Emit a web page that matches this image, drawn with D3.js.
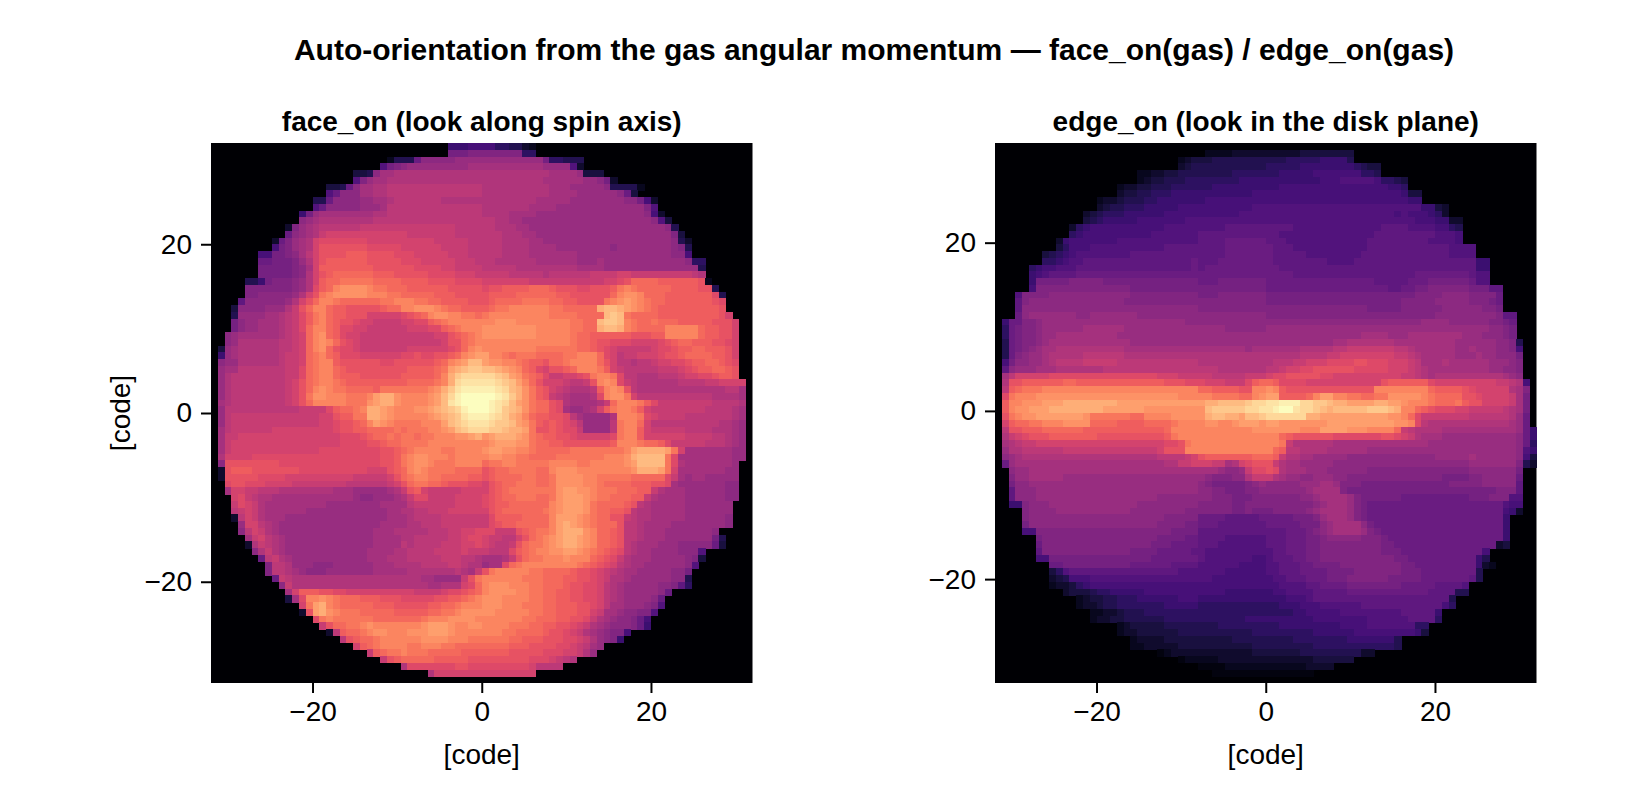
<!DOCTYPE html>
<html>
<head>
<meta charset="utf-8">
<title>Auto-orientation</title>
<script src="https://d3js.org/d3.v7.min.js"></script>
<style>
    html, body { margin: 0; background: #fff; }
    svg { display: block; }
    text { font-family: "Liberation Sans", Arial, sans-serif; fill: #000; }
    .tick text { font-size: 28px; }
    .tick line { stroke: #000; stroke-width: 2px; }
    .title { font-size: 30px; font-weight: bold; text-anchor: middle; }
    .subtitle { font-size: 28px; font-weight: bold; text-anchor: middle; }
    .label { font-size: 28px; text-anchor: middle; }
</style>
</head>
<body>
<script>
// heatmap rows, one base-36 digit per cell (0 = empty), ten cells per group, "-" = ten empty cells
var faceRows = [
"- - - 0000077788 8866553200",
"- - - 00000cccdd dddddd6600",
"- - 0000002555 beeeeeffff fffffffffc 6655500000",
"- - 000009cdef ffffffffgg gggggggggf fff9300000",
"- - 0445egghhh hhhhhhhhhh hhhhhhhhhh ggggf444",
"- - 09dfgghhhh hhhhhhhhhh hhhhhhhhhg gggggffec3",
"- 0000000445 begghhiiii iiiiiiiiii hhhhhhhhhh gggfffffe5 5552",
"- 00000009be eegghhiiii iiiiiiiiii hhhhhhhhhh ggggffffff eb4",
"- 0000055bee eeffgghiii iiiihhhhhh hhhhhhhhgg gggfffffff feec83",
"- 000009beee eefffgiiii iiiiiiiiii hhhhhhhggg gfffffffff ffffd9",
"- 0007cfgggg gggghhiiii iiiiiiiiii hhhhggggff ffffffffff ffffe83",
"- 000efghhhh hhhhiiiiii iiiiiiiiii iihhggffff ffffffffff fffffe94",
"- 03dfghiiii iijjjjjjjj jjjjjjiiii iihhhggfff ffffffffff fffffffe5",
"- 0befghjkkk kkkkkkkkkj jjjjjjiiii iiihhhggff ffffffffff ffffffffd4",
"0000000003 bdfghkllll lllkkkkkkk kkkjjjjjii iiihhhhggf ffffffffff ffffffffe5 3",
"0000000008 cdfghkmmmm mmmlllllkk kkkkjjjjii iiihhhhggg gffffffffe ffffffffed 5",
"000000088c cdegikmmmm nnnmmmmlll kkkkkjjjii iiihhhhggg ggggffffff ffffffffee 8",
"0000000bbc ccdfhkmnnn nnnmmmmmll lkkkkkjjji iihhhhhhgg ggggfffgff ffffffffff e66",
"0000000ccc ccdegknnnn nnnnmmmmmm llllkkjjjj iiiiihhhhh hhhhggggff ffffffffff ff5",
"0000000ccc ccdehkmnoo oooonnnmmm mmllllkkkj jjjjiiiiih iiiiiijjjj kkjjjjjjjj jih",
"00000557cd ddefhknoop ppppoooonn nnmmmmllll kkkkkkkjjj jjjjjjjjkk lmoooonnnn nnm2",
"00000ddddd ddefhlnoqr rrrqppooon nnnnnmmmmm lmmnnnnooo nmmmllmmmn pqpooooonn nnmm5",
"00000ddeee eefhkmpqrr rrrqqqppoo ooonnnmmmm mnnnnooooo onnmmmmmmo qrrqooonnn nnnnl5",
"0000aeeeee efhkmoqqpo oooooppqqq ppoonnnnmm mnoooopppp oonnmmmmpq rsrqpoonnn nnnnml",
"0004eeeeff fhjmoqqonn mmmmmnooqq rrrqpoonnn noppqqqqqq ppoooootuu tsrqponnnn nnnnnm",
"0005ffffgg hijlnpqonn mmmkkkkklm noqrrqqppo pqqqqqqqqq ppppoooouv upoooonnnn nnnnnmk",
"000ceffggg hijlnpqonm mlkkjjjjkk llnopqqqqq qqrrrqqqqq qqqppoouvv uqpoopooon nnnnmmmk",
"000ceffggg hijloqqonl lkkjjjjjjk kkllnopqqq rrrrrrrrqq qqqppootuu tqpooooqqq qqonnmmk",
"00efgggggg hijkoqronl kkjjjjjjjj jjjkkmnopq rrrrrrrrqq qqqpoonnnn nnmmmnnqqq qqonnmmk",
"00efhhhhhh iijkoqrqom lkjjjjjjjj jjjjkmmopq qqqqqqqqqq qqqpoonmml llkkkklmno onnnmmlk",
"04fghhhhhh iijkoqroml lkjjjjjjjk kkkkklmoqr qqqqqqqqpp ppppoonmlk jjjjjkllmn noonnnmk",
"07fghhhhhh ijjkopqonl llkkkkkkll mllmmnoqrs sqqpopppoo ooppqqqolk ijjkkklmmn oooonnmk",
"0effhhhhhh ijjkopqqnm mmmmmllmmm mmmnoqrsuu srrqqponnm oopqqqqomk iihiijkkll mnnoonml",
"0fggiiiiii ijjlopqqon mmmmmmmmmn nnnopstuvv uutsrqonlk mmnoqqqpnk jiiiiijjjk lmnnoonm",
"0fhiiiiiii ijjlopqqon nnmmmmmmnn nnnoqtvwww wwvusrponl jjkklmpqqp liihhhiiij kkllmnnm",
"0fhiiiiiii ijkmopqqpo nnnnnnnnno ooopqtwxxx xxwvusqomk kkjiijmqrq ljihhhhhhi iiijjkkkk",
"0fhiiiiiii ijkmoqrqpp oooonppppp ppqrtvxyyy yyxwutrpnm kjihhhinqr qmihhhhhhh hhhhhhiig",
"0fhiiiiiii ijkmprrqqq pppqsttrqq qqrsuwyzzz zzyxvtrpnm jihggghlqr rpkiiiiiii iiiihhhhg",
"0ghiiiiiii ijkmoqqqqq ppprsttrqq qqrsuxyzzz zyxwusrpoo mlhgggghjo qqqpnljjjj jjjjiiiih",
"0fiiiiiiii iiijjjjlno opqttsrqqq rrstuvwyzz zyxvutrpoo mlgffghknp qqpnkjjjjj jjjiiiihg",
"0fijjjjjjj jjjjjjkkmn nppttsrqqq qqrstuvxyy yxwvtsqonn mmligffffh qqqplkjjjj iiiiiiihg",
"0fijjjjjjj jjjjjjkklm mnoqsrqppp pqqqsuvwxx xwvvusrpnm nmlkiffffi pqqokiiiii iiiiihhgf",
"0gijjjjjjk kkkkkkkklm mnnoooopop ppqqrsuvww wvvuttspmm nmlljffffi pqqnkjjjjj iiiihhhgf",
"0gjjkkkkkk kkkkkkkkkl llmnoopopp oppqqqrrst rstttsrpon nmmlkkkkkl pqqnkkkkkk jjjjiihgf",
"0gjkkkkkkk kkkkkkkkkl lllmmnoopp ppqqqqqqqq qrsssrrpoo nnmmmmmmmn qqqpoonljj jjjiiihgf",
"0gjkkkkkkk kkkkkkllll lllllmmnop qqqqppqqqq rssrrqqpoo oooppppppp pqsttttspk gggggggff",
"0hkkkkllll llllllllll lllllmmnpq rrqqqpqqqq qrrqqppooo opppppppqq qrtuuuuplg gggggggff",
"0emmmmmmmm llllllllll lllllmmnpq rrqpppqqqq oppqqppppp qqqqppqqqq qrsuuuuplh gggggggf",
"03mnnnmmmm mmmlllllll lllkkkmnoq rqppppoooo mnooppppoo qrrrqqqqqq qqrtttspkg ggggggff",
"03mmmmmlll lkkkkkkkkk kjjjjjkmop qqppoooonn mnooooppoo prrrrqqppp ppoooooljg fggfffff",
"00lmmlllkk kkjjjjjjjj iiiiiijkmo ppoonmmmll kmnoopppoo prrrrqqpoo oonnnmmlgf ffffffee",
"00gkkjjiii hhhhhhhhgg gfffffghjm nkjjjjjkkk kmnopppppp prssrrqppp ooonnjhggg ffffffee",
"000kljihhg gggggggggg gfeefffghj lljjjjkkkk lmnoopppoo prsssrqppo oonnjhgggg ffffffee",
"000jlkjhgg gggggggfff fffffggggi jjjjjjkkkk lmnnoooooo qrsssrpooo onmihggggg fffffff",
"000ijkjhgg ggggffffff ffffffgghh iijjjkkkkk kmnoooooop qrsssrpoon nmihhggggg fffffff",
"0003ikjhgg gfffffffff ffffffgggh iiiijjjjjj jlnnnnoooo qsssrqpoom mjihhggggg ffffffe",
"0000fkkihg ffffffffff fffffggggh hiiijjjjjj jlmnnooooo qstsrqpooo miihggggff ffffffe",
"0000eikjhg ffffffffff ffffggghhh hhiiijjkkl lljjjmnopp qstttrqoon miihgggfff ffffe",
"00000gjkih gfffffffff ffffgggghh iiiiijjkll kjjiikmopq rsttsrqoon miihgggfff ffffc5",
"000003hjih gfffffffff ffffggggih iiiijjjkkl kjiijmoppq rsttsrqoon mihgggfffe eeeeb4",
"000000ehjh gfffffffff fffgggghhi iiijjjjkjj jiiilnopqq rrssrqponm lihggffffe ee9",
"0000000bij hgffffffff fffggghhhi iiiijjjiih ggghjmoppq qqrqqqonml jhgggfffff ed4",
"00000000di ihfffeeeff ffffggghhh hiiiijjihh fgglopqqqq qqqqponmlk ihggffffff e9",
"00000000di ihgfeeefff ffffgggggh hhhhhhihgj mpqqqqqppo ooonmmlkji hggfffffee c",
"000000000b jihhhhhhhh hhhhhhhhhh hggffffjmp qqqqqqpppo oonnmmlkjh hgffffffee 5",
"- ejhhhhhhhh hhhhhhhhhh hhgghhhklo qrrrqqqppo oonmmllkih gfffffeeda 6",
"- 0gknnnmmll kkkkkkkkkk jjjjkllmno qrrrrqqppo onnmmllkih gfffffeb0",
"- 04glqqrqpo oonnnmmmll lllmmnnopq rrrqqqqppo onnmmllkih gffffeb",
"- 000kpstqpo oooonnnmmm mmnnoopqqq rrrqqqpppo onnnmmlkig gfffed9",
"- 0003mstrqp ppooooonnn nnooppqrrr rrqqqqqppo onnnmmkjgg feedd9",
"- 00000lpqpp ppppoooooo opqqqrrrrq qqqqqqppoo onnmmljhgf eedb8",
"- 000000jmoo ppqrqqqqqq qrsssrqqrr qqqqpppoon nmmlkjhgfe eedb7",
"- 00000003in oopqrrqqqr rrsssrqqqq qqqppoooon mmlkjhgfed d8",
"- 000000000i mnoopqqqqq qrrrrqqqpp ppppoonnnm mmllkjhfed 7",
"- - 0knopqqqqp pqqqppoooo oooonnnmmm mllkjigf",
"- - 000jnoppqp ppooooonnn nnnnmmmmml llkkjhf",
"- - 00000jmnoo ooonnnnnmm mmmmmmmlll kjih",
"- - 00000000hl llllllmmll lllllllkii ii",
"- - - 00hkkkkkkk kkkkkkkk",
"-"
];

var edgeRows = [
"-",
"- - - 0222233333 3333344444 444",
"- - 0000000234 4455555555 5556666677 775",
"- - 0000000345 5555555555 6666677777 7776544",
"- - 0223344555 5555566666 6677777888 8888665",
"- - 0234455566 6666667777 7777777788 8999998665 4",
"- 0000000023 3445556666 6677777777 7788888888 8888888877 6",
"- 0000000034 4556667777 7777777788 8888888888 8888888888 744",
"- 0000023345 5566777777 7888888888 8888888888 8888888888 877",
"- 0000034556 6677777888 8888888899 9999999999 9999999999 9997743",
"- 0003456667 7777788888 8888889999 9999999999 9999999998 9888763",
"- 0004567777 7888888899 9999999999 9999999999 9999999999 998887733",
"- 0367888888 8888899999 9999aaaaaa aaaa999999 9999999aaa a99998865",
"- 0678888888 8889999999 aaaaaaaaaa aa99999999 999999aaaa aaaaa9998",
"0000000003 7888888899 9999999999 aaaabbbbbb aaa9999999 99999aaaaa aaaa99998",
"0000000004 6888999999 99999aaaaa aaaabbbbbb baaa999999 99999aaaaa aaaaaaa999 9",
"0000000456 7899999999 aaaaaaaaaa aaaabbbbbb baaaaa9999 9999aaaaaa aaaaaaa999 9",
"0000000667 899aaaaaaa aaaaaaaaab aaabbbbbbb baaaaaaaa9 999aaaaaaa aaaaaaaaaa a77",
"0000067889 99aaaaaaaa aaaaaaaaab abbbbbbbbb bbaaaaaaaa aaaaaaaaaa aaaaaaaaaa a77",
"00000789aa aabbbbbbbb bbbbbbbbbb bbbbbbbbbb bbbbaaaaaa aaaaaaaaaa aabbbbbbbb a99",
"000007cccc cdddddcccc cccccccccc bbbccccccc bbbbbbbbbb bbbbbbaaaa abbbcccccc b99",
"000008dddd dddddddddd cccccccccc cccccccccc bbbbbbbbbb bbbbbbbbaa bbccdddddd cccaa",
"0009ddddee eeeeeeeeee dddddddddd cccddddddd cccccccccc cccccccccc ccddddeeee ddddb",
"000adeeeee eeeeeeeeed dddddddddd dddddddddd cccccccccc cccccccccc dddddeeeee dddcb",
"000aeeeeee eeeeeeeeee eeeeeeeeee dddddddddd dddddddddd dddddccccc ddddddeeee eeddc",
"000befffff ffeeffffff feeeeeeeee eeeeeeeeee dddddddddd dddddddddd dddddeeeee eeeedaa",
"07bbddefff ffffffffff ffffffffee eeeeeeeeee eeeeeeeeee eeeeeeeeee eeeffffeee eeeddcb",
"06bcddefff fffggggggf ffffffffff ffffeeeeee ffffffffff ffffffffff ffffffffff fffeedc",
"06bcddeffg ggggggggff ffffffffff ffffffffff ffffffffff ffffggggff fggggggggf ffeeedc",
"05bcddefgg gggggggggg ffffffffff ffffffffff ffffffffff gghhhhhhhg ggggggggff ffffeed5",
"05bcdefggh hhhhhhhhhg gggggggggg gggggggfgg ggggghhhhh iijjjjjjji ihggggggff gfffeed8",
"05bdeffghh hhhiiiiiih hhhhhhhhhh hhhhhhhhhh hhhhhiiiij jkkkkkkkkj jihgggggff fgffeeec",
"08ceeffghi iiijjjjjii iiiiiiiiii hhhhhhhhhh hiiijjkkkl lllmmlllkk kjiggghggg gggfffed",
"0aefffgggh hhhhhhiiii iiiiiiiiii iiihhhhhhh iijkkllmmm mmmlllllkk kjihgggggg gggffeed",
"0gikkkkkll llllllllll llllkkkjjj jjiiiiijjj kllmmmmmll kkkkkkkkkk jjihghhhhh hhhhhgfe",
"0hmmnnnnnn oonnnnnnnn nnnnnmmmll lkkkjjjlno onllllkkkk kkkkkkkmnn nnnnlkkkkk kkkkjjih8",
"0inopppqqq qqqqqqqqqq qqqqqqqqqq oonnnnmmqq rqnmmmmmmm mmmmmmqqqq qqqqonnnnm lkkkkkhgd",
"0lpqqqrrrr rrrrrrrrrr rrrrrrrqqq qqppppooqr ssnnnnoqss qqppoopprr rrrqpoooom mlkkkkjgc",
"0nqqrrrsss ttttttttss ssssssssss sttuuuuvww xxyyywwvvu ttssssttss rqqqpooopn mmkkkkjgc",
"0nqrrssstt ttttttssss ssrrrrrrrr ruvvvvvwwx xyzzxwwvut uuuuuvvvut qqonmlllkk jjjjjihgc",
"0mpqrrssss sssrpppppp ooqqqqrrrr rtuuttsuuv wwwwwwttss ssssssssrr qoljjjjjjj iiiiiihfb",
"0knooppqqq rrrroooonn nnoooopqqq qrrqqrsssr ssrrrrrrrs sssssssssr rqlihhhhhh hhhhhhgfb",
"0immnnnooo ooonnnnnnn nnnnnoqqqq qqqqqqqqrr rrrrrqqqss ssrrrqqqqo jihhhhgggg gggggggfb7",
"0hjklmmmnn nnnnnmmmmm mmmmmnpqqq qqqqqqqqqq qqonmmmmmm lllllllmml kjhgggffff fffffffeb7",
"0ghijjkkkk kkkkkkkkkk kkkkkllmpq qqqqqqqqqq qqpjhhhhhh gggggggggg ggggffffff fffffffeb6",
"0fhhiiiiii jjjjjjjjjj jjjjkmmmqq qqqqqqqqqq qoniihhhhg gggggfffff ffffffffff fffffffe97",
"0efghhhhhh hhhhhhhhhh hhhhiiiijk mnnnnnnnoo onjhhggfff ffeeeeeeee eeeeefffff gffffffe84",
"0bfggggggg gggggggggg ggggghhjjk kkjjghklmm mjhggfffff eeeeeeeeee eeeeeeeeee fffffffd53",
"00effggggg gggggggggg gggggggggg gggfeefjll mlhgggfffe eeeeeddddd dddddddddd eeeeeeec",
"00dffggggg ffffffffff ffffffffff fedddeehjj jhgffeefff eedddddddd ddddddcccc ddeeeeeb",
"00ceefffff ffffffffff ffffffffff edcccccdef eeeeefffgg fdddcccccc cccccccddd ddeeeeea",
"00aeeeffff ffffffffff ffffffffff eeddcccdde eeeeeefggg gdcccccccc cccccccccc ccccddda",
"00aeeeffff ffffffffff ffffeeeeee eedddcccdd dddddeefgg ggfdcccccc bbbbbbbbbb cccddd99",
"0077deeeff ffffffffff feeeeeeeee dddddccddd dddddddefg ggfdcbbbbb bbbbbbbbbb bbbbb988",
"0000deeeef ffffffffff eeeeeeeedd dddddccdcc cdddddefgg ggfdcbbbbb bbbbbbbbbb bbbbb873",
"0000deeeee eeeeeeeeee eeeeeddddd bbbbaaaaab bbbbcccdfg ggfdcbbbbb bbbbbbbbbb bbbbb7",
"0000ceeeee eeeeeeeeee eeeeddddcc bbbaaaaaaa bbbbbcccef ggggecbbbb bbbbbbbbbb bbbbb7",
"000088dddd dddddddddd ddddddcccc aaaaaaaaaa aaabbbcdef ggggfdcbbb bbbbbbbbbb bbbbb7",
"000000cddd dddddddddd ddddccccbb aaaa999999 aaabbbccde eeeedddcbb bbbbbbbbbb bbbbb7",
"000000bddd dddddddddd dddcccbbbb aaa9999999 aaabbbccdd dddddddccb bbbbbbbbbb bbbb34",
"000000addd dddddddddd ccccbbbbba a999999999 9aabbbccdd dddddddccc bbbbbbbbbb bb8",
"00000088cc cccccccccc cccbbbbbbb a999999988 9aaabbccdd dddddddddc cbbbbbbbbb b75",
"00000000bb cccccccccc bbbbbbaaaa 9999998888 99aaabbccc cddddddddd ccbbbbbbbb b732",
"0000000046 9aaaaaaaaa aaaaaaa999 9999888888 99aaabbbbc cccddddddd cccbbbbbbb b5",
"0000000034 5888999999 9999999999 9988888888 899aaabbbc ccddddddcc cccbbbbbbb a5",
"0000000023 3467888888 8888888888 8888888888 889999aabb bbcccccccc bbbbbaaaa9",
"- 3444566777 7788888888 8888777777 7889999aaa aabbbbbbbb bbbbaaaa55",
"- 0023445566 6777777888 7777777777 7778889aaa aaaaaaaaaa aaaaaaa5",
"- 0023345566 6666677777 6666666666 6677788899 9999aaaaaa aaaaaa86",
"- 0000223345 5566666666 6666666666 6666778888 8999999999 aaaaa7",
"- 0000233445 5555566666 6666666777 7777777888 8888899999 9aaaa6",
"- 0000000023 4444455555 5556666666 6677777777 7888899999 9966",
"- 0000000023 3444444555 5555555566 6666666777 7778888888 8874",
"- - 2333344444 4444455555 5555666666 6677777775",
"- - 2233333444 4444444455 5555555666 6666666665",
"- - 0000123333 3333333344 4444455555 555533",
"- - 0000000122 2223333333 3333333444 444",
"- - - 1111222222 2222223333",
"- - - 0011111111 1111111",
"-"
];

var xTicks = [-20, 0, 20];
var yTicks = [-20, 0, 20];
var xLim = [-32, 32];
var faceYLim = [-32, 32];
var edgeYLim = [-32.35, 31.85];
var titles = ["face_on (look along spin axis)", "edge_on (look in the disk plane)"];
var mainTitle = "Auto-orientation from the gas angular momentum \u2014 face_on(gas) / edge_on(gas)";
var axisLabel = "[code]";

var width = 1640, height = 800;
var panelTop = 143, panelBottom = 683;
var svg = d3.select("body").append("svg").attr("width", width).attr("height", height);

// "a0 b1 -" -> array of 80 levels
function parseRow(row) {
    var groups = row.split(" ").map(function (g) { return g === "-" ? "0000000000" : g; });
    var s = groups.map(function (g, i) {
        return i < groups.length - 1 ? g.padEnd(10, g.slice(-1)).slice(0, 10) : g;
    }).join("").padEnd(80, "0");
    return s.split("").map(function (c) { return parseInt(c, 36); });
}

var color = d3.scaleSequential(d3.interpolateMagma).domain([0, 35]);

function drawPanel(rows, left, right, yLim, title, showYLabel) {
    var x = d3.scaleLinear().domain(xLim).range([left, right]);
    var y = d3.scaleLinear().domain(yLim).range([panelBottom, panelTop]);
    var col = d3.scaleBand().domain(d3.range(80)).range([left, right]);
    var row = d3.scaleBand().domain(d3.range(80)).range([panelTop, panelBottom]);
    var g = svg.append("g");

    g.append("rect").attr("x", left).attr("y", panelTop)
        .attr("width", right - left).attr("height", panelBottom - panelTop)
        .attr("fill", color(0));

    var cells = [];
    rows.forEach(function (r, i) {
        parseRow(r).forEach(function (v, j) {
            if (v > 0) cells.push({ i: i, j: j, v: v });
        });
    });
    g.selectAll("rect.cell").data(cells).enter().append("rect")
        .attr("class", "cell")
        .attr("x", function (d) { return col(d.j); })
        .attr("y", function (d) { return row(d.i); })
        .attr("width", col.bandwidth() + 0.5)
        .attr("height", row.bandwidth() + 0.5)
        .attr("shape-rendering", "crispEdges")
        .attr("fill", function (d) { return color(d.v); });

    var xAxis = svg.append("g").attr("transform", "translate(0," + panelBottom + ")")
        .call(d3.axisBottom(x).tickValues(xTicks).tickSize(10).tickPadding(8));
    xAxis.select(".domain").remove();
    var yAxis = svg.append("g").attr("transform", "translate(" + left + ",0)")
        .call(d3.axisLeft(y).tickValues(yTicks).tickSize(10).tickPadding(9));
    yAxis.select(".domain").remove();

    svg.append("text").attr("class", "subtitle")
        .attr("x", (left + right) / 2).attr("y", 131).text(title);
    svg.append("text").attr("class", "label")
        .attr("x", (left + right) / 2).attr("y", 764).text(axisLabel);
    if (showYLabel) {
        svg.append("text").attr("class", "label")
            .attr("transform", "translate(130," + (panelTop + panelBottom) / 2 + ") rotate(-90)")
            .text(axisLabel);
    }
}

drawPanel(faceRows, 211, 752.5, faceYLim, titles[0], true);
drawPanel(edgeRows, 995, 1536.5, edgeYLim, titles[1], false);

svg.append("text").attr("class", "title").attr("x", 874).attr("y", 60).text(mainTitle);
</script>
</body>
</html>
